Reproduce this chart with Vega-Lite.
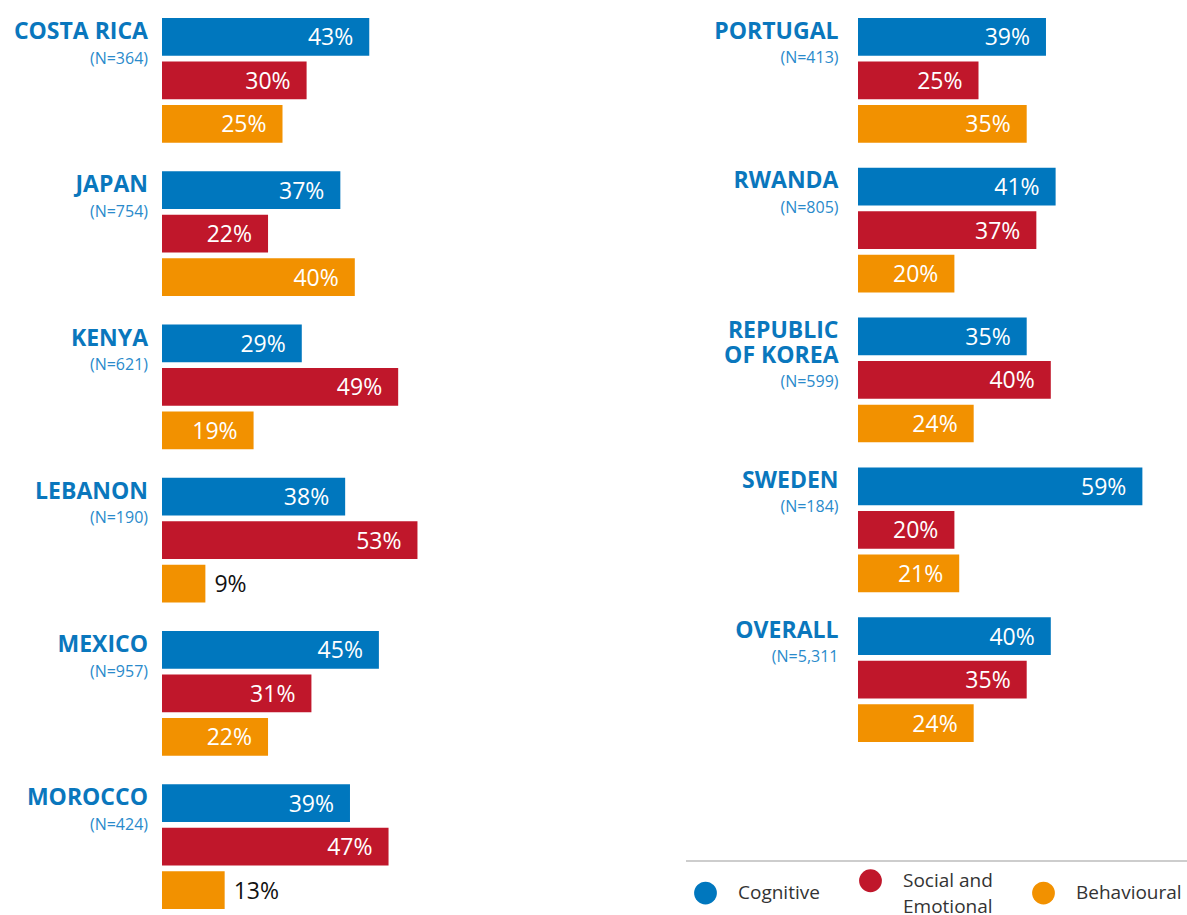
{
  "$schema": "https://vega.github.io/schema/vega-lite/v6.json",
  "padding": {"left": 13, "top": 17, "right": 0, "bottom": 0},
  "autosize": {"type": "pad"},
  "bounds": "flush",
  "spacing": 246,
  "config": {"view": {"stroke": null}, "font": "Open Sans"},
  "datasets": {
    "bars": [
      {"panel": "L", "country": "Costa Rica", "category": "Cognitive", "value": 0.43},
      {"panel": "L", "country": "Costa Rica", "category": "Social and Emotional", "value": 0.30},
      {"panel": "L", "country": "Costa Rica", "category": "Behavioural", "value": 0.25},
      {"panel": "L", "country": "Japan", "category": "Cognitive", "value": 0.37},
      {"panel": "L", "country": "Japan", "category": "Social and Emotional", "value": 0.22},
      {"panel": "L", "country": "Japan", "category": "Behavioural", "value": 0.40},
      {"panel": "L", "country": "Kenya", "category": "Cognitive", "value": 0.29},
      {"panel": "L", "country": "Kenya", "category": "Social and Emotional", "value": 0.49},
      {"panel": "L", "country": "Kenya", "category": "Behavioural", "value": 0.19},
      {"panel": "L", "country": "Lebanon", "category": "Cognitive", "value": 0.38},
      {"panel": "L", "country": "Lebanon", "category": "Social and Emotional", "value": 0.53},
      {"panel": "L", "country": "Lebanon", "category": "Behavioural", "value": 0.09},
      {"panel": "L", "country": "Mexico", "category": "Cognitive", "value": 0.45},
      {"panel": "L", "country": "Mexico", "category": "Social and Emotional", "value": 0.31},
      {"panel": "L", "country": "Mexico", "category": "Behavioural", "value": 0.22},
      {"panel": "L", "country": "Morocco", "category": "Cognitive", "value": 0.39},
      {"panel": "L", "country": "Morocco", "category": "Social and Emotional", "value": 0.47},
      {"panel": "L", "country": "Morocco", "category": "Behavioural", "value": 0.13},
      {"panel": "R", "country": "Portugal", "category": "Cognitive", "value": 0.39},
      {"panel": "R", "country": "Portugal", "category": "Social and Emotional", "value": 0.25},
      {"panel": "R", "country": "Portugal", "category": "Behavioural", "value": 0.35},
      {"panel": "R", "country": "Rwanda", "category": "Cognitive", "value": 0.41},
      {"panel": "R", "country": "Rwanda", "category": "Social and Emotional", "value": 0.37},
      {"panel": "R", "country": "Rwanda", "category": "Behavioural", "value": 0.20},
      {"panel": "R", "country": "Republic of Korea", "category": "Cognitive", "value": 0.35},
      {"panel": "R", "country": "Republic of Korea", "category": "Social and Emotional", "value": 0.40},
      {"panel": "R", "country": "Republic of Korea", "category": "Behavioural", "value": 0.24},
      {"panel": "R", "country": "Sweden", "category": "Cognitive", "value": 0.59},
      {"panel": "R", "country": "Sweden", "category": "Social and Emotional", "value": 0.20},
      {"panel": "R", "country": "Sweden", "category": "Behavioural", "value": 0.21},
      {"panel": "R", "country": "Overall", "category": "Cognitive", "value": 0.40},
      {"panel": "R", "country": "Overall", "category": "Social and Emotional", "value": 0.35},
      {"panel": "R", "country": "Overall", "category": "Behavioural", "value": 0.24}
    ],
    "labels": [
      {"panel": "L", "country": "Costa Rica", "name": "COSTA RICA", "n": "(N=364)"},
      {"panel": "L", "country": "Japan", "name": "JAPAN", "n": "(N=754)"},
      {"panel": "L", "country": "Kenya", "name": "KENYA", "n": "(N=621)"},
      {"panel": "L", "country": "Lebanon", "name": "LEBANON", "n": "(N=190)"},
      {"panel": "L", "country": "Mexico", "name": "MEXICO", "n": "(N=957)"},
      {"panel": "L", "country": "Morocco", "name": "MOROCCO", "n": "(N=424)"},
      {"panel": "R", "country": "Portugal", "name": "PORTUGAL", "n": "(N=413)"},
      {"panel": "R", "country": "Rwanda", "name": "RWANDA", "n": "(N=805)"},
      {"panel": "R", "country": "Republic of Korea", "name": "REPUBLIC\nOF KOREA", "n": "(N=599)"},
      {"panel": "R", "country": "Sweden", "name": "SWEDEN", "n": "(N=184)"},
      {"panel": "R", "country": "Overall", "name": "OVERALL", "n": "(N=5,311"}
    ]
  },
  "hconcat": [
    {
      "width": 450,
      "height": 891,
      "encoding": {
        "y": {"field": "country", "type": "nominal", "axis": null,
              "scale": {"domain": ["Costa Rica", "Japan", "Kenya", "Lebanon", "Mexico", "Morocco"], "paddingInner": 0.186, "paddingOuter": 0}}
      },
      "layer": [
        {
          "data": {"name": "bars"},
          "transform": [{"filter": "datum.panel == 'L'"}],
          "mark": {"type": "bar"},
          "encoding": {
            "yOffset": {"field": "category", "type": "nominal",
                        "scale": {"domain": ["Cognitive", "Social and Emotional", "Behavioural"], "paddingInner": 0.133, "paddingOuter": 0}},
            "x": {"field": "value", "type": "quantitative", "axis": null, "scale": {"domain": [0, 0.9336], "nice": false}},
            "color": {"field": "category", "type": "nominal",
                      "scale": {"domain": ["Cognitive", "Social and Emotional", "Behavioural"], "range": ["#0077be", "#c0172b", "#f29100"]},
                      "legend": {
                        "orient": "none", "legendX": 524, "legendY": 843, "direction": "horizontal", "columns": 3,
                        "title": " ", "titleOrient": "right", "titlePadding": 20, "titleFontSize": 8,
                        "symbolType": "circle", "symbolSize": 520, "symbolStrokeWidth": 0, "symbolOpacity": 1,
                        "labelFont": "Open Sans", "labelFontSize": 19, "labelColor": "#333333", "labelOffset": 21,
                        "columnPadding": 39, "padding": 8, "labelLimit": 300, "labelBaseline": "middle",
                        "labelExpr": "datum.label == 'Social and Emotional' ? ['Social and', 'Emotional'] : datum.label",
                        "encode": {
                          "legend": {"update": {"stroke": {"value": "#bdbdbd"}, "strokeWidth": {"value": 1.5}, "strokeDash": {"value": [502, 3000]}}},
                          "labels": {"update": {"lineHeight": {"value": 26}}}
                        }
                      }}
          }
        },
        {
          "data": {"name": "bars"},
          "transform": [{"filter": "datum.panel == 'L' && datum.value >= 0.15"}],
          "mark": {"type": "text", "align": "right", "baseline": "middle", "dx": -16, "dy": 1.5, "fontSize": 23, "color": "white"},
          "encoding": {
            "yOffset": {"field": "category", "type": "nominal"},
            "x": {"field": "value", "type": "quantitative"},
            "text": {"field": "value", "type": "quantitative", "format": ".0%"}
          }
        },
        {
          "data": {"name": "bars"},
          "transform": [{"filter": "datum.panel == 'L' && datum.value < 0.15"}],
          "mark": {"type": "text", "align": "left", "baseline": "middle", "dx": 9, "dy": 1.5, "fontSize": 23, "color": "#111111"},
          "encoding": {
            "yOffset": {"field": "category", "type": "nominal"},
            "x": {"field": "value", "type": "quantitative"},
            "text": {"field": "value", "type": "quantitative", "format": ".0%"}
          }
        },
        {
          "data": {"name": "labels"},
          "transform": [{"filter": "datum.panel == 'L'"}],
          "mark": {"type": "text", "align": "right", "baseline": "alphabetic", "dx": -14, "dy": 21, "fontSize": 23, "fontWeight": "bold", "color": "#0a77bd", "lineBreak": "\n", "lineHeight": 25},
          "encoding": {
            "y": {"field": "country", "type": "nominal", "bandPosition": 0},
            "x": {"datum": 0},
            "text": {"field": "name", "type": "nominal"}
          }
        },
        {
          "data": {"name": "labels"},
          "transform": [{"filter": "datum.panel == 'L'"}],
          "mark": {"type": "text", "align": "right", "baseline": "alphabetic", "dx": -14, "dy": 45.5, "fontSize": 16, "color": "#2a8acb"},
          "encoding": {
            "y": {"field": "country", "type": "nominal", "bandPosition": 0},
            "x": {"datum": 0},
            "text": {"field": "n", "type": "nominal"}
          }
        }
      ]
    },
    {
      "width": 320,
      "height": 724,
      "encoding": {
        "y": {"field": "country", "type": "nominal", "axis": null,
              "scale": {"domain": ["Portugal", "Rwanda", "Republic of Korea", "Sweden", "Overall"], "paddingInner": 0.167, "paddingOuter": 0}}
      },
      "layer": [
        {
          "data": {"name": "bars"},
          "transform": [{"filter": "datum.panel == 'R'"}],
          "mark": {"type": "bar"},
          "encoding": {
            "yOffset": {"field": "category", "type": "nominal",
                        "scale": {"domain": ["Cognitive", "Social and Emotional", "Behavioural"], "paddingInner": 0.133, "paddingOuter": 0}},
            "x": {"field": "value", "type": "quantitative", "axis": null, "scale": {"domain": [0, 0.6639], "nice": false}},
            "color": {"field": "category", "type": "nominal",
                      "scale": {"domain": ["Cognitive", "Social and Emotional", "Behavioural"], "range": ["#0077be", "#c0172b", "#f29100"]},
                      "legend": {
                        "orient": "none", "legendX": 524, "legendY": 843, "direction": "horizontal", "columns": 3,
                        "title": " ", "titleOrient": "right", "titlePadding": 20, "titleFontSize": 8,
                        "symbolType": "circle", "symbolSize": 520, "symbolStrokeWidth": 0, "symbolOpacity": 1,
                        "labelFont": "Open Sans", "labelFontSize": 19, "labelColor": "#333333", "labelOffset": 21,
                        "columnPadding": 39, "padding": 8, "labelLimit": 300, "labelBaseline": "middle",
                        "labelExpr": "datum.label == 'Social and Emotional' ? ['Social and', 'Emotional'] : datum.label",
                        "encode": {
                          "legend": {"update": {"stroke": {"value": "#bdbdbd"}, "strokeWidth": {"value": 1.5}, "strokeDash": {"value": [502, 3000]}}},
                          "labels": {"update": {"lineHeight": {"value": 26}}}
                        }
                      }}
          }
        },
        {
          "data": {"name": "bars"},
          "transform": [{"filter": "datum.panel == 'R' && datum.value >= 0.15"}],
          "mark": {"type": "text", "align": "right", "baseline": "middle", "dx": -16, "dy": 1.5, "fontSize": 23, "color": "white"},
          "encoding": {
            "yOffset": {"field": "category", "type": "nominal"},
            "x": {"field": "value", "type": "quantitative"},
            "text": {"field": "value", "type": "quantitative", "format": ".0%"}
          }
        },
        {
          "data": {"name": "labels"},
          "transform": [{"filter": "datum.panel == 'R'"}],
          "mark": {"type": "text", "align": "right", "baseline": "alphabetic", "dx": -19.5, "dy": 20.5, "fontSize": 23, "fontWeight": "bold", "color": "#0a77bd", "lineBreak": "\n", "lineHeight": 25},
          "encoding": {
            "y": {"field": "country", "type": "nominal", "bandPosition": 0},
            "x": {"datum": 0},
            "text": {"field": "name", "type": "nominal"}
          }
        },
        {
          "data": {"name": "labels"},
          "transform": [{"filter": "datum.panel == 'R' && indexof(datum.name, '\\n') < 0"}],
          "mark": {"type": "text", "align": "right", "baseline": "alphabetic", "dx": -19.5, "dy": 45, "fontSize": 16, "color": "#2a8acb"},
          "encoding": {
            "y": {"field": "country", "type": "nominal", "bandPosition": 0},
            "x": {"datum": 0},
            "text": {"field": "n", "type": "nominal"}
          }
        },
        {
          "data": {"name": "labels"},
          "transform": [{"filter": "datum.panel == 'R' && indexof(datum.name, '\\n') >= 0"}],
          "mark": {"type": "text", "align": "right", "baseline": "alphabetic", "dx": -19.5, "dy": 69.5, "fontSize": 16, "color": "#2a8acb"},
          "encoding": {
            "y": {"field": "country", "type": "nominal", "bandPosition": 0},
            "x": {"datum": 0},
            "text": {"field": "n", "type": "nominal"}
          }
        }
      ]
    }
  ]
}
